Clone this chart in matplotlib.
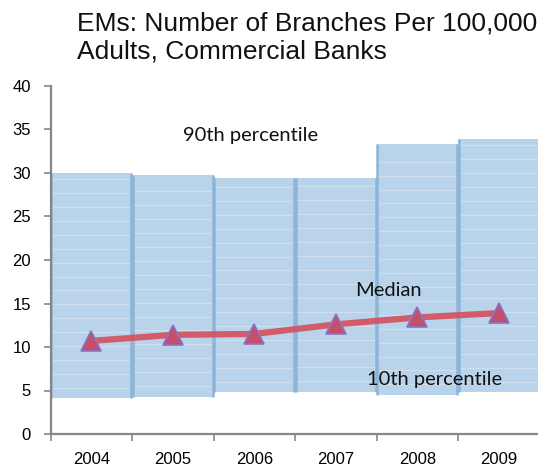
import matplotlib
matplotlib.use("Agg")
import matplotlib.pyplot as plt
import numpy as np

years = ["2004", "2005", "2006", "2007", "2008", "2009"]
p10 = [4.1, 4.3, 4.8, 4.85, 4.5, 4.8]
p90 = [30.0, 29.8, 29.4, 29.4, 33.3, 33.9]
median = [10.7, 11.4, 11.5, 12.6, 13.4, 13.9]
y_ticks = [0, 5, 10, 15, 20, 25, 30, 35, 40]

fig = plt.figure(figsize=(5.38, 4.70), dpi=100)
ax = fig.add_axes([50.5 / 538, 36 / 470, 489 / 538, 348 / 470])

x = np.arange(len(years))
heights = [hi - lo for lo, hi in zip(p10, p90)]
bars = ax.bar(x, heights, bottom=p10, width=1.0, color="#B9D4EA",
              linewidth=0, zorder=2)

# darker side edges and faint horizontal texture inside the range bars
for xi, lo, hi in zip(x, p10, p90):
    for xe in (xi - 0.49, xi + 0.49):
        ax.plot([xe, xe], [lo, hi], color="#8DB4D9", linewidth=1.8,
                zorder=2.6, solid_capstyle="butt")
    for yy in np.arange(lo + 1.2, hi - 0.4, 1.6):
        ax.plot([xi - 0.47, xi + 0.47], [yy, yy], color="white",
                alpha=0.3, linewidth=0.8, zorder=2.5)

ax.plot(x, median, color="#D44F5C", linewidth=4.5, alpha=0.9, zorder=3,
        solid_capstyle="butt")
ax.plot(x, median, linestyle="none", marker="^", markersize=15,
        markerfacecolor="#C44F68", markeredgecolor="#8A72C8",
        markeredgewidth=1.2, zorder=4)

ax.set_xlim(-0.5, 5.5)
ax.set_ylim(0, 40)
ax.set_yticks(y_ticks)
ax.set_yticklabels([str(v) for v in y_ticks], fontfamily="Liberation Sans",
                   fontsize=12)
ax.set_xticks(x)
ax.set_xticklabels(years, fontfamily="Liberation Sans", fontsize=12)
ax.set_xticks(np.arange(-0.5, 6.0, 1.0), minor=True)
ax.tick_params(axis="x", which="major", length=0, pad=13)
ax.tick_params(axis="x", which="minor", length=5, width=1.2, color="#868686")
ax.tick_params(axis="y", length=5, width=1.2, color="#868686", pad=9)

for side in ("top", "right"):
    ax.spines[side].set_visible(False)
for side in ("left", "bottom"):
    ax.spines[side].set_color("#868686")
    ax.spines[side].set_linewidth(1.6)
    ax.spines[side].set_zorder(5)

label_font = dict(fontfamily="Lato", fontsize=14.5, color="#111111", zorder=6)
ax.text(1.96, 34.3, "90th percentile", ha="center", va="center", **label_font)
ax.text(3.65, 16.5, "Median", ha="center", va="center", **label_font)
ax.text(4.21, 6.3, "10th percentile", ha="center", va="center", **label_font)

fig.text(77 / 538, 1 - 11 / 470,
         "EMs: Number of Branches Per 100,000\nAdults, Commercial Banks",
         ha="left", va="top", fontfamily="Liberation Sans", fontsize=19,
         linespacing=1.25, color="#111111")

fig.savefig("out.png", dpi=100)
